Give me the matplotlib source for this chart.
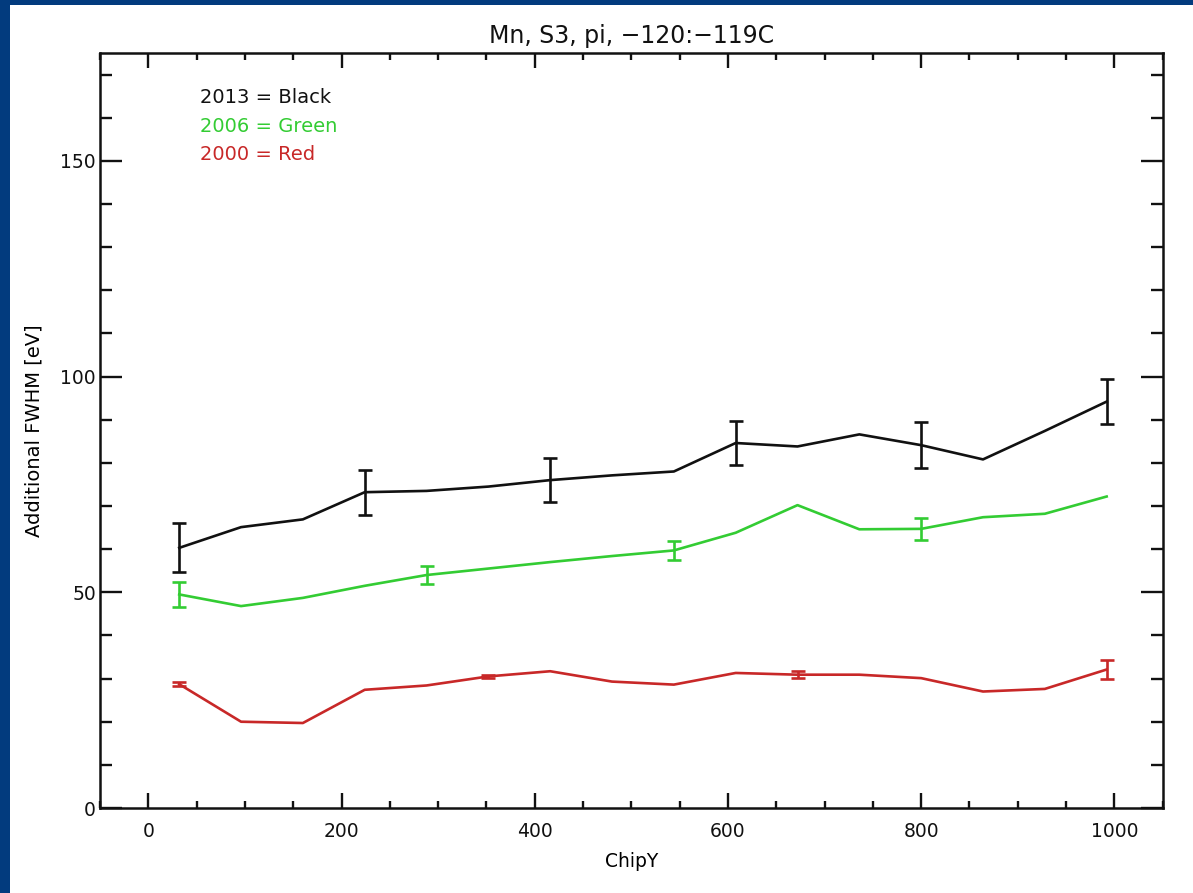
import numpy as np
import matplotlib
matplotlib.use("Agg")
import matplotlib.pyplot as plt
from matplotlib.patches import Rectangle
from matplotlib.ticker import MultipleLocator

# ChipY bin centres (64-row bins)
chip_y = [32, 96, 160, 224, 288, 352, 416, 480, 544, 608, 672, 736, 800, 864, 928, 992]

fwhm_2013 = [60.3, 65.1, 66.9, 73.2, 73.5, 74.5, 76.0, 77.1, 78.0, 84.6, 83.8, 86.6, 84.1, 80.8, 87.4, 94.2]
fwhm_2006 = [49.5, 46.8, 48.7, 51.5, 54.0, 55.5, 57.0, 58.4, 59.7, 63.8, 70.2, 64.6, 64.7, 67.4, 68.2, 72.2]
fwhm_2000 = [28.7, 20.0, 19.7, 27.4, 28.4, 30.5, 31.7, 29.3, 28.6, 31.3, 30.9, 30.9, 30.1, 27.0, 27.6, 32.1]

# error bars are only drawn on every few bins
err_idx_2013 = [0, 3, 6, 9, 12, 15]
err_2013 = [5.7, 5.2, 5.1, 5.1, 5.3, 5.3]
err_idx_2006 = [0, 4, 8, 12]
err_2006 = [2.8, 2.0, 2.3, 2.5]
err_idx_2000 = [0, 5, 10, 15]
err_2000 = [0.5, 0.4, 0.8, 2.2]

legend_labels = ["2013 = Black", "2006 = Green", "2000 = Red"]

BLACK = "#111111"
GREEN = "#33cc33"
RED = "#c82828"

plt.rcParams["font.family"] = ["DejaVu Sans"]

fig = plt.figure(figsize=(11.93, 8.93), dpi=100)
fig.patch.set_facecolor("#023b7e")
# white page inside the blue frame
fig.patches.append(Rectangle((10 / 1193, 0), 1, (893 - 5) / 893,
                             transform=fig.transFigure, facecolor="white",
                             edgecolor="none", zorder=-10))

ax = fig.add_axes([100 / 1193, 85 / 893, 1062.7 / 1193, 755 / 893])
ax.set_facecolor("white")

x = np.array(chip_y)
series = [
    (fwhm_2013, err_idx_2013, err_2013, BLACK),
    (fwhm_2006, err_idx_2006, err_2006, GREEN),
    (fwhm_2000, err_idx_2000, err_2000, RED),
]
for vals, idx, err, col in series:
    vals = np.array(vals)
    ax.plot(x, vals, color=col, lw=1.9)
    ax.errorbar(x[idx], vals[idx], yerr=err, fmt="none", ecolor=col,
                elinewidth=1.9, capsize=4.7, capthick=1.9)

for i, (lab, col) in enumerate(zip(legend_labels, [BLACK, GREEN, RED])):
    ax.text(0.094, 0.941 - i * 0.038, lab, transform=ax.transAxes,
            color=col, fontsize=14, va="center", ha="left")

ax.set_xlim(-50, 1050)
ax.set_ylim(0, 175)
ax.xaxis.set_major_locator(MultipleLocator(200))
ax.xaxis.set_minor_locator(MultipleLocator(50))
ax.yaxis.set_major_locator(MultipleLocator(50))
ax.yaxis.set_minor_locator(MultipleLocator(10))

ax.tick_params(axis="both", which="both", direction="in", top=True, right=True,
               width=1.7, colors="#111111", labelsize=13.5)
ax.tick_params(axis="x", which="major", length=10.5, pad=10)
ax.tick_params(axis="x", which="minor", length=5)
ax.tick_params(axis="y", which="major", length=15.5, pad=3)
ax.tick_params(axis="y", which="minor", length=8.5)

for sp in ax.spines.values():
    sp.set_linewidth(1.8)
    sp.set_color("#111111")

ax.set_title("Mn, S3, pi, \u2212120:\u2212119C", fontsize=17, pad=7, color="#111111")
ax.set_xlabel("ChipY", fontsize=13.5, labelpad=8)
ax.set_ylabel("Additional FWHM [eV]", fontsize=14, labelpad=12)

fig.savefig("out.png", dpi=100, facecolor=fig.get_facecolor())
